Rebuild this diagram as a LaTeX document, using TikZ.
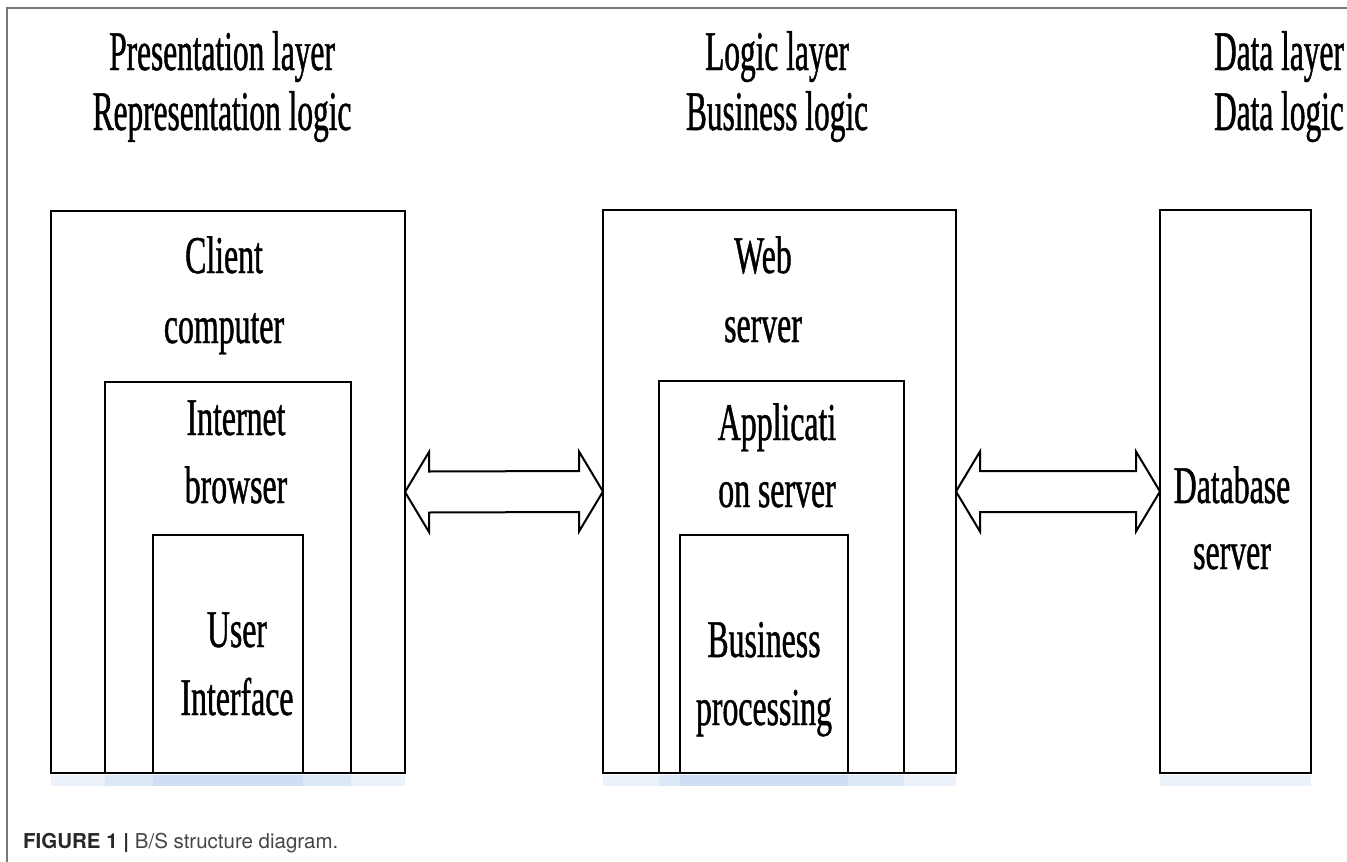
\documentclass[tikz,border=0pt]{standalone}
\usepackage{fontspec}
\usetikzlibrary{calc}
\newfontfamily\cond{Liberation Serif}[FakeStretch=0.6,FakeBold=0.8]
\newfontfamily\condt{Liberation Serif}[FakeStretch=0.56,FakeBold=0.8]
\newfontfamily\capfont{TeX Gyre Heros}
\definecolor{framegray}{RGB}{120,120,120}
\definecolor{shadowblue}{RGB}{150,185,230}
\definecolor{captext}{RGB}{70,70,70}
\definecolor{capbold}{RGB}{40,40,40}
\begin{document}
\begin{tikzpicture}[x=1pt,y=-1pt,
  box/.style={draw=black,line width=2,inner sep=0,outer sep=0,anchor=north west},
  lbl/.style={inner sep=0,anchor=base,font=\cond\fontsize{53}{60}\selectfont},
  ttl/.style={inner sep=0,anchor=base,font=\condt\fontsize{56}{62}\selectfont},
  blockarrow/.style={draw=black,line width=2,fill=white,line join=miter},
  shadow/.style={fill=shadowblue,opacity=0.18}]
\useasboundingbox (0,0) rectangle (1347,862);
\fill[white] (0,0) rectangle (1347,862);
% frame
\draw[framegray,line width=2] (7,862) -- (7,8) -- (1347,8);
% titles
\node[ttl] (t1a) at (222,70) {Presentation layer};
\node[ttl] (t1b) at (222,130) {Representation logic};
\node[ttl] (t2a) at (777,70) {Logic layer};
\node[ttl] (t2b) at (777,130) {Business logic};
\node[ttl,anchor=base east] (t3a) at (1344,70) {Data layer};
\node[ttl,anchor=base east] (t3b) at (1344,130) {Data logic};
% shadows
\foreach \a/\b in {51/405,105/351,153/303,603/956,659/904,680/848,1160/1311}
  \fill[shadow] (\a,775) rectangle (\b,786);
% boxes
\node[box,minimum width=354,minimum height=562] (client) at (51,211) {};
\node[box,minimum width=246,minimum height=391] (browser) at (105,382) {};
\node[box,minimum width=150,minimum height=238] (ui) at (153,535) {};
\node[box,minimum width=353,minimum height=563] (web) at (603,210) {};
\node[box,minimum width=245,minimum height=392] (app) at (659,381) {};
\node[box,minimum width=168,minimum height=238] (bp) at (680,535) {};
\node[box,minimum width=151,minimum height=563] (db) at (1160,210) {};
% labels
\node[lbl] (l1) at (224,273) {Client};
\node[lbl] (l2) at (224,343) {computer};
\node[lbl] (l3) at (236,435) {Internet};
\node[lbl] (l4) at (236,503) {browser};
\node[lbl] (l5) at (237,647) {User};
\node[lbl] (l6) at (237,715) {Interface};
\node[lbl] (l7) at (763,273) {Web};
\node[lbl] (l8) at (763,342) {server};
\node[lbl] (l9) at (777,440) {Applicati};
\node[lbl] (l10) at (777,507) {on server};
\node[lbl] (l11) at (764,657) {Business};
\node[lbl] (l12) at (764,725) {processing};
\node[lbl] (l13) at (1232,503) {Database};
\node[lbl] (l14) at (1232,569) {server};
% double block arrows
\foreach \s/\e in {client/web,web/db}{
  \draw[blockarrow] (\s.east) -- ++(24,-40) -- ++(0,19.5)
    -- ($(\e.west)+(-24,-20.5)$) -- ++(0,-19.5) -- (\e.west)
    -- ++(-24,40) -- ++(0,-19.5) -- ($(\s.east)+(24,20.5)$)
    -- ++(0,19.5) -- cycle;
}
% caption
\node[inner sep=0,anchor=base west,text=captext,font=\capfont\fontsize{20.5}{22}\selectfont] (cap) at (23,848)
  {\textcolor{capbold}{\textbf{FIGURE 1 |}} B/S structure diagram.};
\end{tikzpicture}
\end{document}
